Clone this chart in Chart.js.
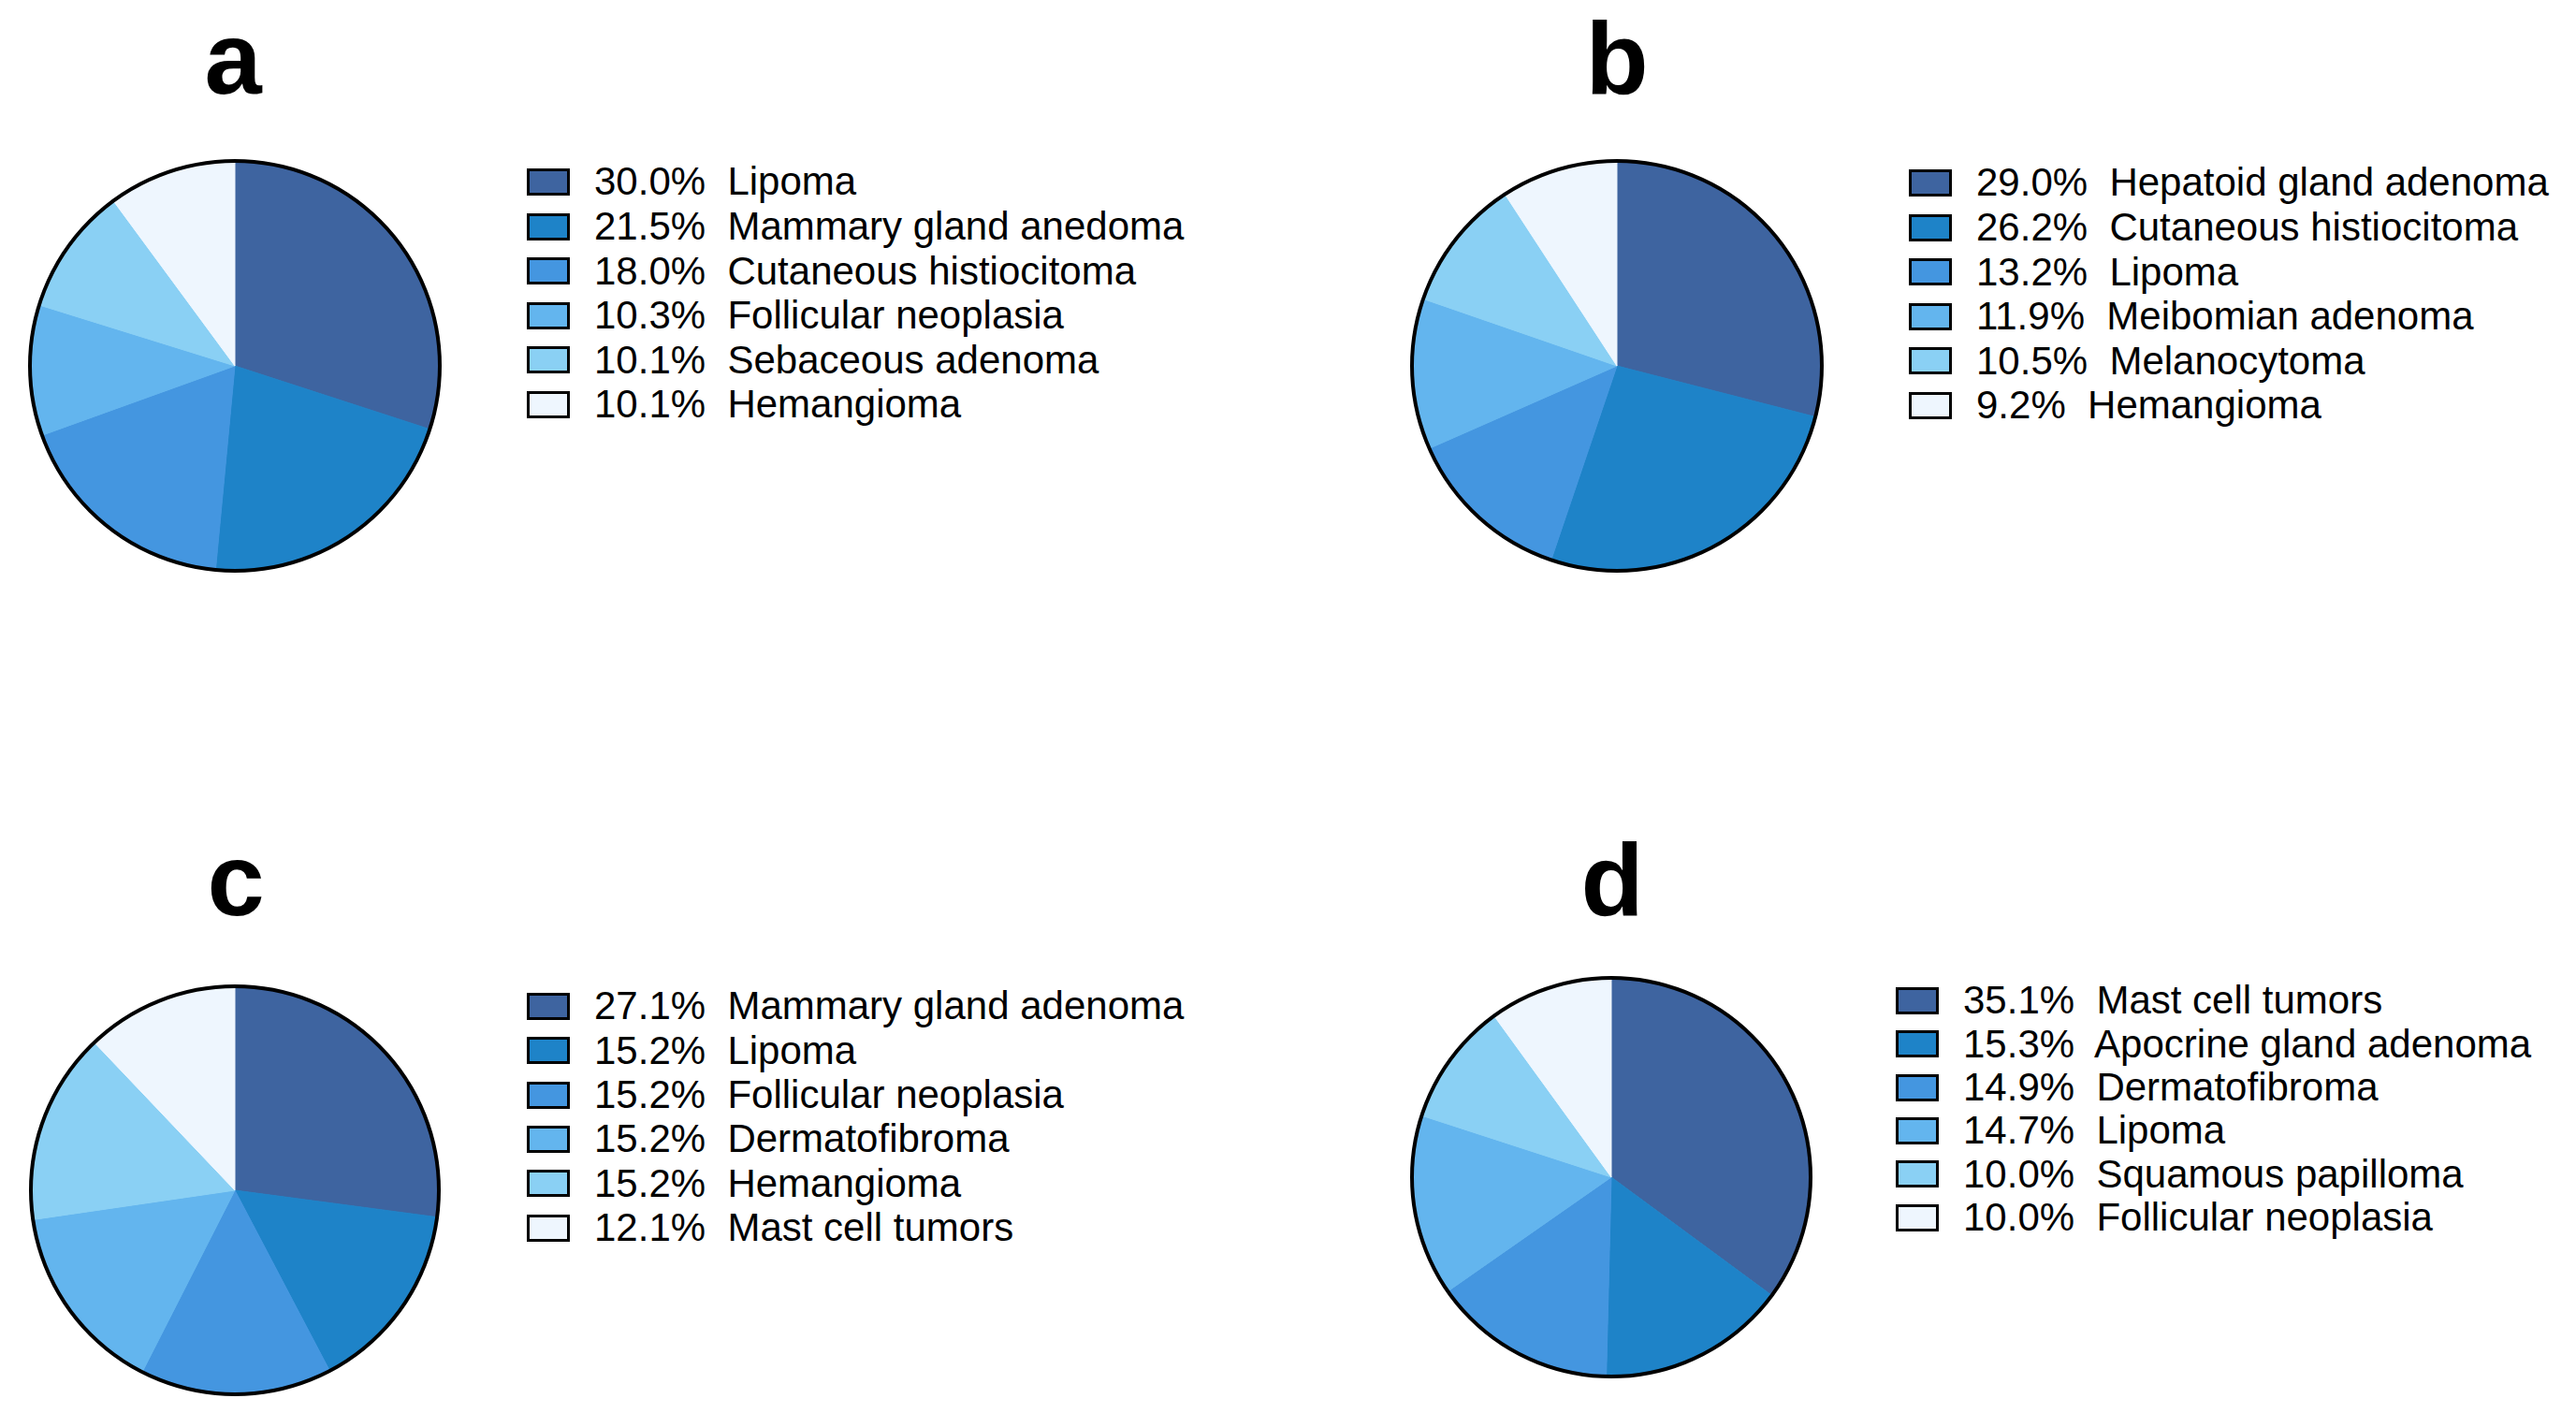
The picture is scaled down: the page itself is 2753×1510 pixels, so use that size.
<!DOCTYPE html>
<html>
<head>
<meta charset="utf-8">
<script src="https://cdn.jsdelivr.net/npm/chart.js@4.4.1/dist/chart.umd.min.js"></script>
<style>
  html, body { margin: 0; padding: 0; background: #fff; }
  body { width: 2753px; height: 1510px; position: relative; overflow: hidden;
         font-family: "Liberation Sans", Arial, Helvetica, sans-serif; }
  .title { position: absolute; font-weight: bold; font-size: 110px; line-height: 110px;
           width: 300px; text-align: center; color: #000; }
  .pie { position: absolute; }
  .legend { position: absolute; }
  .row { position: absolute; left: 0; white-space: pre; }
  .box { position: absolute; left: 0; top: 0; width: 46px; height: 29px;
         box-sizing: border-box; border: 3px solid #000; }
  .txt { position: absolute; left: 72px; font-size: 42px; line-height: 42px; color: #000; }
</style>
</head>
<body>
<script>
// ---------- data ----------
const panelTitles = ["a", "b", "c", "d"];

const labelsA = ["Lipoma", "Mammary gland anedoma", "Cutaneous histiocitoma", "Follicular neoplasia", "Sebaceous adenoma", "Hemangioma"];
const valuesA = [30.0, 21.5, 18.0, 10.3, 10.1, 10.1];

const labelsB = ["Hepatoid gland adenoma", "Cutaneous histiocitoma", "Lipoma", "Meibomian adenoma", "Melanocytoma", "Hemangioma"];
const valuesB = [29.0, 26.2, 13.2, 11.9, 10.5, 9.2];

const labelsC = ["Mammary gland adenoma", "Lipoma", "Follicular neoplasia", "Dermatofibroma", "Hemangioma", "Mast cell tumors"];
const valuesC = [27.1, 15.2, 15.2, 15.2, 15.2, 12.1];

const labelsD = ["Mast cell tumors", "Apocrine gland adenoma", "Dermatofibroma", "Lipoma", "Squamous papilloma", "Follicular neoplasia"];
const valuesD = [35.1, 15.3, 14.9, 14.7, 10.0, 10.0];

const sliceColors = ["#3E64A0", "#1E83C8", "#4496E0", "#63B5EE", "#8AD0F4", "#EEF6FE"];

// ---------- layout (positions only) ----------
const layout = [
  { cx: 251, cy: 391, r: 221, tx: 249, tBase: 100, lx: 563, ly: 180, ls: 47.6 },
  { cx: 1728, cy: 391, r: 221, tx: 1728, tBase: 100, lx: 2040, ly: 181, ls: 47.6 },
  { cx: 251, cy: 1272, r: 220, tx: 252, tBase: 978, lx: 563, ly: 1061, ls: 47.3 },
  { cx: 1722, cy: 1258, r: 215, tx: 1723, tBase: 978, lx: 2026, ly: 1055, ls: 46.3 }
];
const panelLabels = [labelsA, labelsB, labelsC, labelsD];
const panelValues = [valuesA, valuesB, valuesC, valuesD];

const outlinePlugin = {
  id: 'outline',
  afterDatasetsDraw(chart) {
    const arc = chart.getDatasetMeta(0).data[0];
    if (!arc) return;
    const p = arc.getProps(['x', 'y', 'outerRadius'], true);
    const ctx = chart.ctx;
    ctx.save();
    ctx.beginPath();
    ctx.arc(p.x, p.y, p.outerRadius, 0, Math.PI * 2);
    ctx.lineWidth = 4;
    ctx.strokeStyle = '#000';
    ctx.stroke();
    ctx.restore();
  }
};

panelTitles.forEach((t, i) => {
  const L = layout[i];
  // title
  const td = document.createElement('div');
  td.className = 'title';
  td.textContent = t;
  td.style.left = (L.tx - 150) + 'px';
  td.style.top = (L.tBase - 0.8465 * 110) + 'px';
  document.body.appendChild(td);

  // pie
  const S = 2 * L.r + 20;
  const wrap = document.createElement('div');
  wrap.className = 'pie';
  wrap.style.left = (L.cx - S / 2) + 'px';
  wrap.style.top = (L.cy - S / 2) + 'px';
  wrap.style.width = S + 'px';
  wrap.style.height = S + 'px';
  const cv = document.createElement('canvas');
  cv.width = S; cv.height = S;
  cv.style.width = S + 'px'; cv.style.height = S + 'px';
  wrap.appendChild(cv);
  document.body.appendChild(wrap);

  const chart = new Chart(cv, {
    type: 'pie',
    data: {
      labels: panelLabels[i],
      datasets: [{
        data: panelValues[i],
        backgroundColor: sliceColors,
        borderColor: sliceColors,
        borderWidth: 1,
        radius: L.r - 2
      }]
    },
    options: {
      responsive: false,
      animation: false,
      layout: { padding: 0 },
      plugins: { legend: { display: false }, tooltip: { enabled: false }, title: { display: false } }
    },
    plugins: [outlinePlugin]
  });

  // legend built from the chart's own legend items
  const items = Chart.overrides.pie.plugins.legend.labels.generateLabels(chart);
  const lg = document.createElement('div');
  lg.className = 'legend';
  lg.style.left = L.lx + 'px';
  lg.style.top = L.ly + 'px';
  items.forEach((it, k) => {
    const row = document.createElement('div');
    row.className = 'row';
    row.style.top = (k * L.ls) + 'px';
    const box = document.createElement('div');
    box.className = 'box';
    box.style.background = it.fillStyle;
    const tx = document.createElement('div');
    tx.className = 'txt';
    tx.style.top = (29 - 0.8465 * 42) + 'px';
    tx.textContent = panelValues[i][k].toFixed(1) + '%  ' + it.text;
    row.appendChild(box);
    row.appendChild(tx);
    lg.appendChild(row);
  });
  document.body.appendChild(lg);
});
</script>
</body>
</html>
